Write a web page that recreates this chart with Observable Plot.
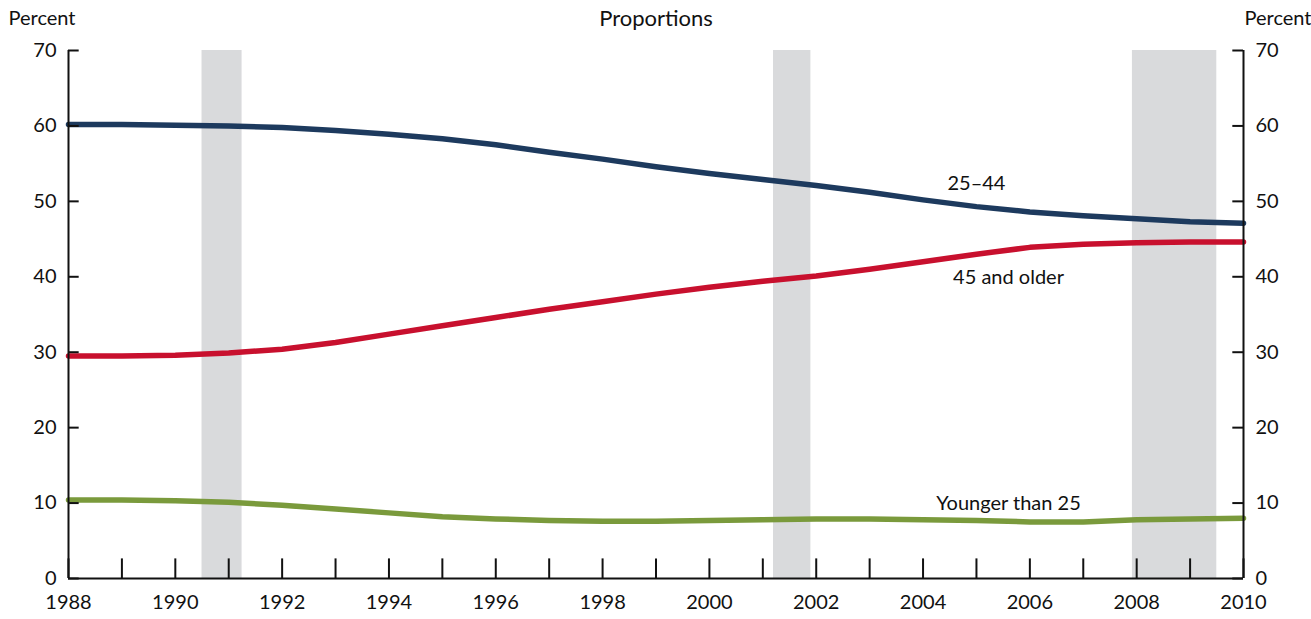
<!DOCTYPE html>
<html>
<head>
<meta charset="utf-8">
<script src="https://cdn.jsdelivr.net/npm/d3@7"></script>
<script src="https://cdn.jsdelivr.net/npm/@observablehq/plot@0.6"></script>
<style>body{margin:0;background:#fff}</style>
</head>
<body>
<div id="chart"></div>
<script>
const years = d3.range(1988, 2011)
const prime = [60.2, 60.2, 60.1, 60.0, 59.8, 59.4, 58.9, 58.3, 57.5, 56.5, 55.6, 54.6, 53.7, 52.9, 52.1, 51.2, 50.2, 49.3, 48.6, 48.1, 47.7, 47.3, 47.1]
const older = [29.5, 29.5, 29.6, 29.9, 30.4, 31.3, 32.4, 33.5, 34.6, 35.7, 36.7, 37.7, 38.6, 39.4, 40.1, 41.0, 42.0, 43.0, 43.9, 44.3, 44.5, 44.6, 44.6]
const younger = [10.4, 10.4, 10.3, 10.1, 9.7, 9.2, 8.7, 8.2, 7.9, 7.7, 7.6, 7.6, 7.7, 7.8, 7.9, 7.9, 7.8, 7.7, 7.5, 7.5, 7.8, 7.9, 8.0]
const recessions = [[1990.5, 1991.25], [2001.2, 2001.9], [2007.92, 2009.5]]
const labels = [
  {x: 2005, y: 52.4, text: "25–44"},
  {x: 2005.6, y: 39.9, text: "45 and older"},
  {x: 2005.6, y: 9.9, text: "Younger than 25"}
]
const yTicks = d3.range(0, 71, 10)

const series = [
  {name: "25–44", values: prime, color: "#1d3a5e"},
  {name: "45 and older", values: older, color: "#c8102e"},
  {name: "Younger than 25", values: younger, color: "#7a9a3c"}
]
const rows = series.flatMap(s => s.values.map((v, i) => ({year: years[i], value: v, name: s.name})))

const chart = Plot.plot({
  width: 1311,
  height: 619,
  marginLeft: 68, marginRight: 68, marginTop: 50, marginBottom: 41,
  style: {fontSize: "20px", fontFamily: "Lato, sans-serif", color: "#111"},
  x: {domain: [1988, 2010]},
  y: {domain: [0, 70]},
  color: {domain: series.map(s => s.name), range: series.map(s => s.color)},
  marks: [
    Plot.rectY(recessions, {x1: d => d[0], x2: d => d[1], y1: 0, y2: 70, fill: "#d9dadc"}),
    Plot.line(rows, {x: "year", y: "value", stroke: "name", strokeWidth: 5.5}),
    // inward ticks
    Plot.ruleY(yTicks, {x1: 1988, x2: 1988.2, strokeWidth: 2}),
    Plot.ruleY(yTicks, {x1: 2009.8, x2: 2010, strokeWidth: 2}),
    Plot.ruleX(years, {y1: 0, y2: 2.6, strokeWidth: 2}),
    Plot.axisY({anchor: "left", ticks: yTicks, tickSize: 0, tickPadding: 12, label: null, tickFormat: d => d}),
    Plot.axisY({anchor: "right", ticks: yTicks, tickSize: 0, tickPadding: 12, label: null, tickFormat: d => d}),
    Plot.axisX({ticks: d3.range(1988, 2011, 2), tickSize: 0, tickPadding: 16, label: null, tickFormat: d => String(d)}),
    Plot.ruleY([0], {strokeWidth: 2}),
    Plot.ruleX([1988, 2010], {strokeWidth: 2}),
    Plot.text(labels, {x: "x", y: "y", text: "text", fontSize: 20}),
    Plot.text(["Proportions"], {frameAnchor: "top", dy: -40, fontSize: 22}),
    Plot.text(["Percent"], {frameAnchor: "top-left", dx: -60, dy: -40, textAnchor: "start", fontSize: 20}),
    Plot.text(["Percent"], {frameAnchor: "top-right", dx: 68, dy: -40, textAnchor: "end", fontSize: 20})
  ]
})
document.getElementById("chart").append(chart)
</script>
</body>
</html>
